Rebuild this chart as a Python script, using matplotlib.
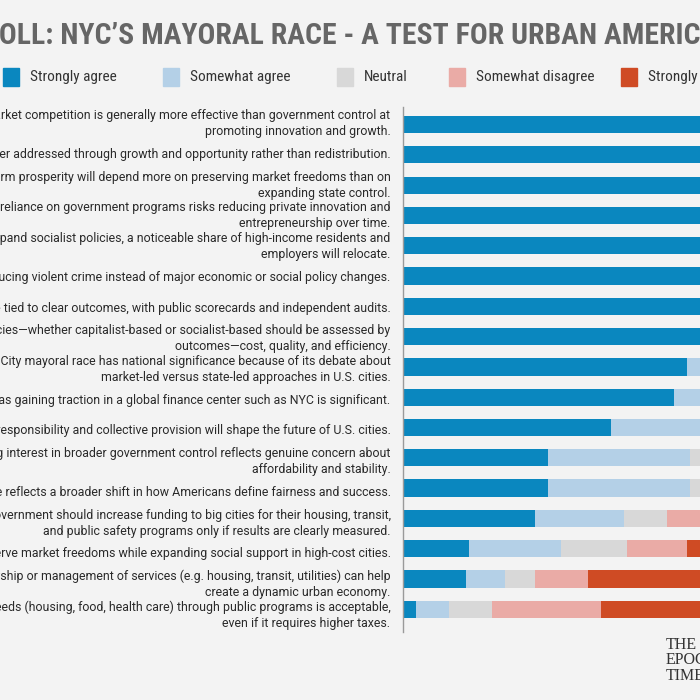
import matplotlib.pyplot as plt
from matplotlib.patches import Rectangle
import numpy as np

# survey statements (top to bottom), left part is cut off in the reference
statements = [
    "Free-market competition is generally more effective than government control at\npromoting innovation and growth.",
    "Inequality is better addressed through growth and opportunity rather than redistribution.",
    "Long-term prosperity will depend more on preserving market freedoms than on\nexpanding state control.",
    "Increased reliance on government programs risks reducing private innovation and\nentrepreneurship over time.",
    "If cities expand socialist policies, a noticeable share of high-income residents and\nemployers will relocate.",
    "City leaders should focus on reducing violent crime instead of major economic or social policy changes.",
    "Public spending should be tied to clear outcomes, with public scorecards and independent audits.",
    "Urban policies\u2014whether capitalist-based or socialist-based should be assessed by\noutcomes\u2014cost, quality, and efficiency.",
    "The New York City mayoral race has national significance because of its debate about\nmarket-led versus state-led approaches in U.S. cities.",
    "Socialist ideas gaining traction in a global finance center such as NYC is significant.",
    "The balance between individual responsibility and collective provision will shape the future of U.S. cities.",
    "The growing interest in broader government control reflects genuine concern about\naffordability and stability.",
    "The NYC mayoral race reflects a broader shift in how Americans define fairness and success.",
    "The federal government should increase funding to big cities for their housing, transit,\nand public safety programs only if results are clearly measured.",
    "It is possible to preserve market freedoms while expanding social support in high-cost cities.",
    "Government ownership or management of services (e.g. housing, transit, utilities) can help\ncreate a dynamic urban economy.",
    "Guaranteeing basic needs (housing, food, health care) through public programs is acceptable,\neven if it requires higher taxes.",
]

categories = ["Strongly agree", "Somewhat agree", "Neutral", "Somewhat disagree", "Strongly disagree"]
colors = ["#0a87bf", "#b4d0e7", "#d8d8d8", "#eaaba6", "#cf4b24"]

# percentages per statement
strongly_agree = [95, 94, 94, 93, 93, 92, 92, 91, 86, 82, 63, 44, 44, 40, 20, 19, 4]
somewhat_agree = [3, 4, 4, 5, 5, 5, 6, 6, 10, 13, 27, 43, 43, 27, 28, 12, 10]
neutral = [1, 1, 1, 1, 1, 2, 1, 2, 2, 3, 6, 8, 8, 13, 20, 9, 13]
somewhat_disagree = [1, 1, 1, 1, 1, 1, 1, 1, 1, 1, 2, 3, 3, 12, 18, 16, 33]
strongly_disagree = [0, 0, 0, 0, 0, 0, 0, 0, 1, 1, 2, 2, 2, 8, 14, 44, 40]

title = "POLL: NYC\u2019S MAYORAL RACE - A TEST FOR URBAN AMERICA"

bg = "#f3f3f3"
fig = plt.figure(figsize=(7, 7), dpi=100, facecolor=bg)
# the axes run past the right edge, the reference is a crop of a wider graphic
ax = fig.add_axes([403 / 700, 68 / 700, 330 / 700, 525 / 700])
ax.set_facecolor(bg)

series = [strongly_agree, somewhat_agree, neutral, somewhat_disagree, strongly_disagree]
y = np.arange(len(statements))
left = np.zeros(len(statements))
for vals, c in zip(series, colors):
    vals = np.array(vals, dtype=float)
    ax.barh(y, vals, left=left, height=0.57, color=c, edgecolor="none")
    left += vals

ax.set_xlim(0, 100)
ax.set_ylim(16.75, -0.58)
for s in ["top", "right", "bottom"]:
    ax.spines[s].set_visible(False)
ax.spines["left"].set_color("#9a9a9a")
ax.spines["left"].set_linewidth(1)
ax.set_xticks([])
ax.set_yticks([])

n = len(statements)
for i, s in enumerate(statements):
    dy = (0.7 - 6.6 * i / (n - 1)) * 0.72
    ax.annotate(s, xy=(0, i), xytext=(-9, dy), textcoords="offset points",
                ha="right", va="center", fontsize=8.9, color="#2a2a2a",
                family=["Roboto", "DejaVu Sans"], linespacing=1.3,
                annotation_clip=False)

cond = ["Roboto Condensed", "Liberation Sans Narrow", "Roboto", "DejaVu Sans"]
fig.text(0.5, 1 - 36 / 700, title, ha="center", va="center", fontsize=21.3,
         fontweight="bold", color="#666666", family=cond, fontstretch="condensed")

leg_x = [3, 163, 337, 449, 621]
for x0, lab, c in zip(leg_x, categories, colors):
    fig.patches.append(Rectangle((x0 / 700, 1 - 86 / 700), 16 / 700, 18 / 700,
                                 transform=fig.transFigure, color=c))
    fig.text((x0 + 27) / 700, 1 - 77 / 700, lab, ha="left", va="center",
             fontsize=11, color="#333333", family=cond, fontstretch="condensed")

fig.text(666 / 700, 1 - 637 / 700, "THE\nEPOCH\nTIMES", ha="left", va="top",
         fontsize=11.5, color="#333333", family="Liberation Serif",
         linespacing=0.95)

fig.savefig("out.png", dpi=100, facecolor=bg)
